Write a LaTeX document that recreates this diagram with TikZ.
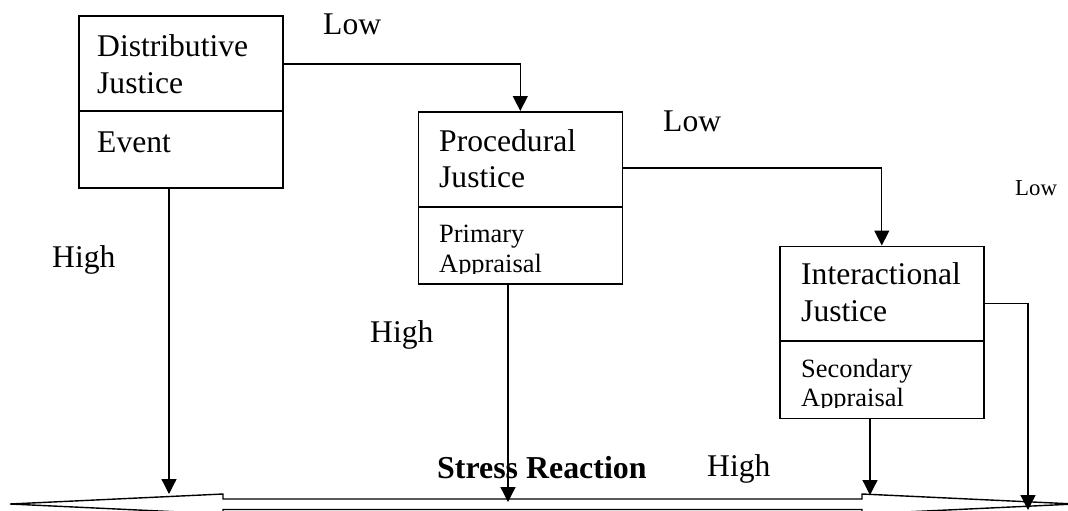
\documentclass[tikz,border=0pt]{standalone}
\usepackage{fontspec}
\setmainfont{Liberation Serif}
\usetikzlibrary{arrows.meta}
\begin{document}
\begin{tikzpicture}[x=1pt,y=-1pt,
  box/.style={draw, line width=1.6pt, inner sep=0pt, anchor=north west,
              minimum width=204pt, minimum height=172pt},
  divider/.style={line width=1.6pt},
  big/.style={font=\fontsize{31.6}{36}\selectfont, inner sep=0pt, anchor=base west},
  small/.style={font=\fontsize{26.4}{30}\selectfont, inner sep=0pt, anchor=base west},
  tiny/.style={font=\fontsize{22.8}{26}\selectfont, inner sep=0pt, anchor=base west},
  link/.style={line width=1.3pt, -{Triangle[width=15pt,length=15pt]}},
  outcome/.style={line width=1.4pt, line join=miter},
]
\useasboundingbox (0,0) rectangle (1068,511);

% the three justice boxes
\node[box] (dj) at (78,15) {};
\node[box] (pj) at (417.5,111) {};
\node[box] (ij) at (779,245.5) {};

% compartment dividers
\coordinate (djdiv) at (0,111);
\coordinate (pjdiv) at (0,207);
\coordinate (ijdiv) at (0,341);
\draw[divider] (dj.west |- djdiv) -- (dj.east |- djdiv);
\draw[divider] (pj.west |- pjdiv) -- (pj.east |- pjdiv);
\draw[divider] (ij.west |- ijdiv) -- (ij.east |- ijdiv);

% box texts
\node[big] (djt1) at (97,57) {Distributive};
\node[big] (djt2) at (97,93) {Justice};
\node[big] (djt3) at (97,152) {Event};

\node[big] (pjt1) at (439,151) {Procedural};
\node[big] (pjt2) at (439,187) {Justice};
\node[small] (pjt3) at (439,242) {Primary};
\begin{scope}
  \clip (420,210) rectangle (620,273.5);
  \node[small] (pjt4) at (439,272) {Appraisal};
\end{scope}

\node[big] (ijt1) at (801,284) {Interactional};
\node[big] (ijt2) at (801,321) {Justice};
\node[small] (ijt3) at (801,377) {Secondary};
\begin{scope}
  \clip (782,344) rectangle (981,407.5);
  \node[small] (ijt4) at (801,406) {Appraisal};
\end{scope}

% the stress reaction double arrow
\draw[outcome] (10,504) -- (223,494) -- (223,499) -- (862,499) -- (862,494)
  -- (1075,504) -- (862,514) -- (862,509.5) -- (223,509.5) -- (223,514) -- cycle;
\node[big, font=\fontsize{31.9}{36}\selectfont\bfseries] (sr) at (437,478) {Stress Reaction};

% arrow end points on the double arrow
\coordinate (e1) at (169,494);
\coordinate (e2) at (508,502);
\coordinate (e3) at (870,495);
\coordinate (e4) at (1028,510);

% low paths
\draw[link] ([yshift=-49pt]dj.north east) -| (pj.north);
\draw[link] ([yshift=-57pt]pj.north east) -| (ij.north);
\draw[link] ([yshift=-58pt]ij.north east) -| (e4);

% high paths
\draw[link] (dj.south -| e1) -- (e1);
\draw[link] (pj.south -| e2) -- (e2);
\draw[link] (ij.south -| e3) -- (e3);

% labels
\node[big] (low1) at (323,35) {Low};
\node[big] (low2) at (663,131) {Low};
\node[tiny] (low3) at (1015,195) {Low};
\node[big] (high1) at (52,267) {High};
\node[big] (high2) at (370,342) {High};
\node[big] (high3) at (707,476) {High};
\end{tikzpicture}
\end{document}
